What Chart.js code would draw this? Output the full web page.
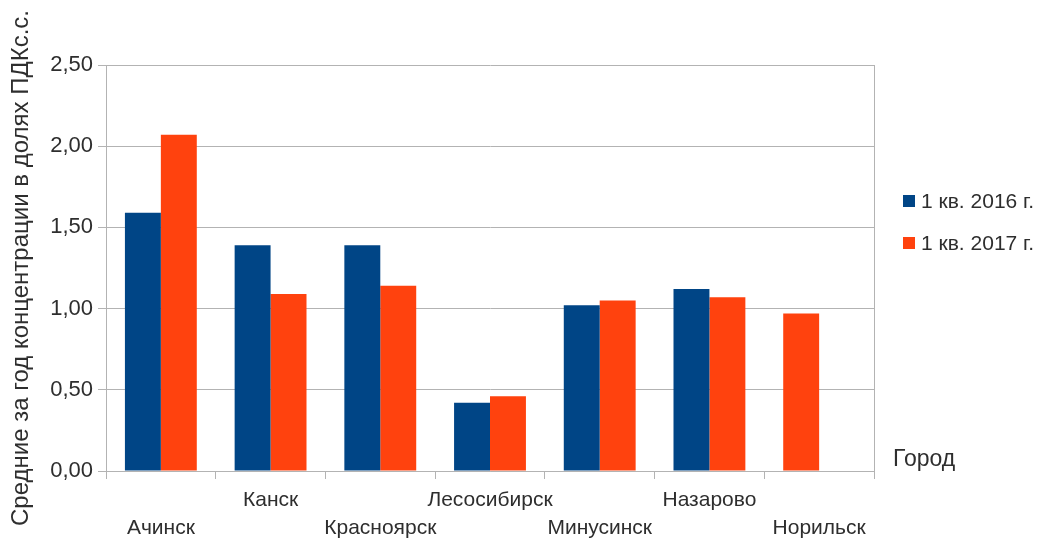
<!DOCTYPE html>
<html>
<head>
<meta charset="utf-8">
<script src="https://cdn.jsdelivr.net/npm/chart.js@4/dist/chart.umd.min.js"></script>
<style>
  html, body { margin: 0; padding: 0; background: #ffffff; }
  #wrap { width: 1040px; height: 540px; }
</style>
</head>
<body>
<div id="wrap"><canvas id="c" width="1040" height="540"></canvas></div>
<script>
// Cities and quarterly mean concentrations (fractions of the daily-average MPC)
const cities = ['Ачинск', 'Канск', 'Красноярск', 'Лесосибирск', 'Минусинск', 'Назарово', 'Норильск'];
const q1_2016 = [1.59, 1.39, 1.39, 0.42, 1.02, 1.12, null];
const q1_2017 = [2.07, 1.09, 1.14, 0.46, 1.05, 1.07, 0.97];
const seriesNames = ['1 кв. 2016 г.', '1 кв. 2017 г.'];
const yTicks = [0, 0.5, 1.0, 1.5, 2.0, 2.5];
const yTitle = 'Средние за год концентрации в долях ПДКс.с.';
const xTitle = 'Город';

const FONT = "'Liberation Sans', Arial, sans-serif";
const TEXT = '#2e2e2e';
const GRID = '#b3b3b3';
const COLORS = ['#004586', '#ff420e'];

// When a city has only one year, draw its bar in the first slot of the group
const singleBarSlot = {
  id: 'singleBarSlot',
  afterDatasetsUpdate(chart) {
    const m1 = chart.getDatasetMeta(1);
    chart.data.labels.forEach((_, i) => {
      const a = chart.data.datasets[0].data[i];
      const b = chart.data.datasets[1].data[i];
      if ((a === null || a === undefined) && b !== null && m1.data[i]) {
        m1.data[i].x = m1.data[i].x - m1.data[i].width;
      }
    });
  }
};

// Legend on the right, the category axis name and the right frame line
const sideDecor = {
  id: 'sideDecor',
  afterDraw(chart) {
    const ctx = chart.ctx, area = chart.chartArea;
    ctx.save();
    ctx.strokeStyle = GRID;
    ctx.lineWidth = 1;
    ctx.beginPath();
    ctx.moveTo(Math.round(area.right) + 0.5, area.top);
    ctx.lineTo(Math.round(area.right) + 0.5, area.bottom);
    ctx.stroke();

    ctx.font = '21px ' + FONT;
    ctx.textBaseline = 'middle';
    ctx.textAlign = 'left';
    chart.data.datasets.forEach((ds, i) => {
      const cy = 201 + i * 42;
      ctx.fillStyle = ds.backgroundColor;
      ctx.fillRect(903, cy - 6, 12, 12);
      ctx.fillStyle = TEXT;
      ctx.fillText(ds.label, 921, cy + 1);
    });

    ctx.font = '23px ' + FONT;
    ctx.fillStyle = TEXT;
    ctx.fillText(xTitle, 893, 460);
    ctx.restore();
  }
};

new Chart(document.getElementById('c'), {
  type: 'bar',
  data: {
    labels: cities,
    datasets: [
      { label: seriesNames[0], data: q1_2016, backgroundColor: COLORS[0] },
      { label: seriesNames[1], data: q1_2017, backgroundColor: COLORS[1] }
    ]
  },
  options: {
    responsive: false,
    animation: false,
    layout: { padding: { top: 65, right: 166, left: 0, bottom: 0 } },
    datasets: { bar: { categoryPercentage: 0.655, barPercentage: 1.0 } },
    plugins: { legend: { display: false }, tooltip: { enabled: false } },
    scales: {
      x: {
        grid: { display: true, offset: true, drawOnChartArea: false, tickLength: 8, color: GRID },
        border: { display: true, color: GRID },
        ticks: {
          color: TEXT,
          font: { family: FONT, size: 21, lineHeight: 1.33 },
          maxRotation: 0,
          autoSkip: false,
          padding: 7,
          callback: function (v, i) {
            const name = this.getLabelForValue(v);
            return i % 2 === 1 ? [name] : ['', name];
          }
        },
        afterFit(scale) { scale.height = 69; }
      },
      y: {
        min: 0,
        max: 2.5,
        afterBuildTicks(scale) { scale.ticks = yTicks.map(v => ({ value: v })); },
        grid: { color: GRID, tickLength: 8 },
        border: { display: true, color: GRID },
        ticks: {
          color: TEXT,
          font: { family: FONT, size: 22 },
          padding: 5,
          callback: v => Number(v).toFixed(2).replace('.', ',')
        },
        title: {
          display: true,
          text: yTitle,
          color: TEXT,
          font: { family: FONT, size: 24 },
          padding: { top: 7, bottom: 0 }
        },
        afterFit(scale) { scale.width = 106; }
      }
    }
  },
  plugins: [singleBarSlot, sideDecor]
});
</script>
</body>
</html>
